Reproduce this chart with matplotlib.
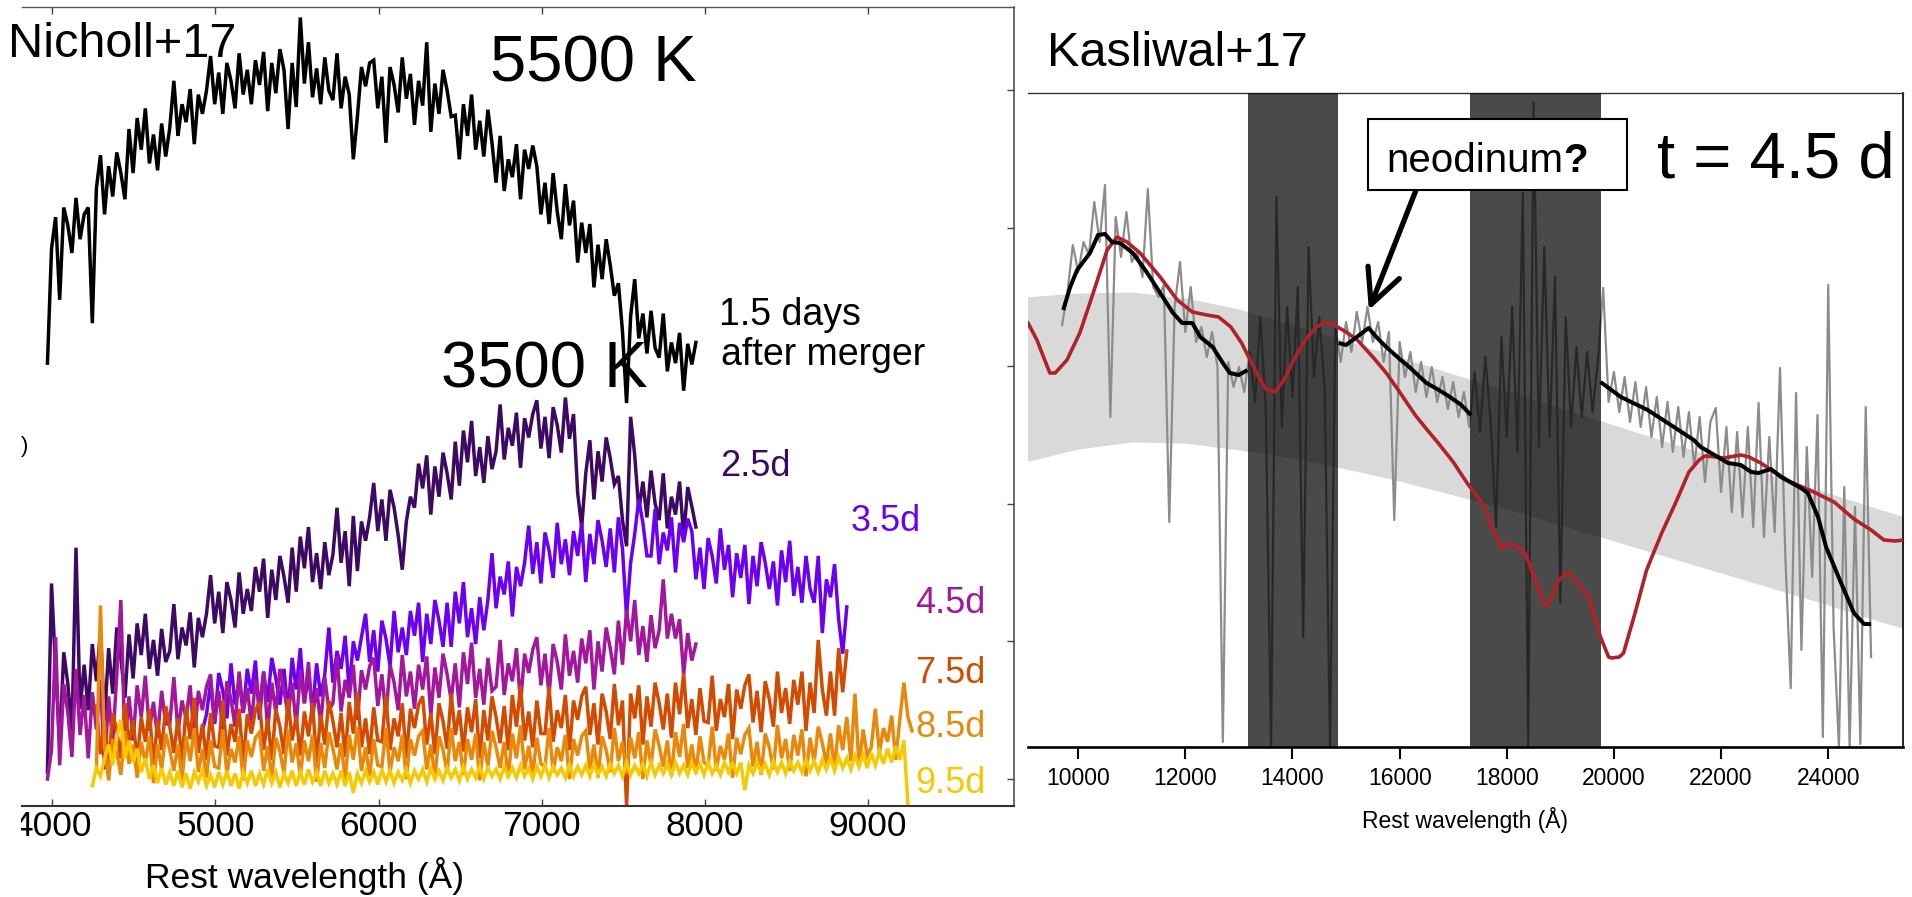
import numpy as np
import matplotlib
matplotlib.use("Agg")
import matplotlib.pyplot as plt
from matplotlib.patches import Rectangle
from matplotlib.transforms import Bbox, TransformedBbox

plt.rcParams["font.family"] = ["Liberation Sans", "DejaVu Sans"]

# ---------------- optical spectra (Nicholl+17), 25 A sampling ----------------
step_opt = 25

start_15 = 3970
flux_15 = [3.02, 3.85, 4.08, 3.48, 4.15, 4.02, 3.82, 4.22, 3.92, 4.10,
           4.15, 3.31, 4.29, 4.53, 4.10, 4.45, 4.23, 4.55, 4.40, 4.21,
           4.72, 4.40, 4.80, 4.57, 4.87, 4.47, 4.68, 4.42, 4.76, 4.52,
           4.73, 5.07, 4.67, 4.90, 4.77, 5.01, 4.61, 4.97, 4.83, 5.00,
           5.25, 4.90, 5.13, 4.83, 5.20, 5.07, 4.87, 5.27, 4.97, 5.15,
           4.90, 5.22, 5.04, 5.28, 4.85, 5.20, 4.98, 5.30, 5.15, 4.72,
           5.20, 4.88, 5.53, 5.05, 5.35, 4.95, 5.16, 4.90, 5.24, 5.00,
           4.93, 5.27, 4.87, 5.10, 4.97, 4.50, 4.81, 5.17, 5.03, 5.20,
           5.22, 4.87, 5.10, 4.62, 5.17, 5.04, 4.84, 5.24, 4.94, 5.12,
           4.75, 5.07, 4.89, 5.35, 4.70, 5.05, 4.83, 5.15, 5.00, 4.81,
           4.82, 4.50, 4.90, 4.67, 4.97, 4.57, 4.78, 4.52, 4.86, 4.62,
           4.33, 4.67, 4.27, 4.50, 4.37, 4.61, 4.21, 4.57, 4.43, 4.60,
           4.45, 4.10, 4.33, 4.03, 4.40, 4.12, 3.92, 4.32, 4.02, 4.20,
           3.75, 4.04, 3.82, 4.03, 3.57, 3.88, 3.63, 3.92, 3.73, 3.51,
           3.60, 3.25, 2.73, 3.36, 3.63, 3.20, 3.38, 3.09, 3.40, 3.13,
           3.06, 3.38, 2.96, 3.17, 3.02, 3.24, 2.82, 3.16, 3.01, 3.17]

start_25 = 3970
flux_25 = [0.05, 1.42, 0.79, 0.25, 0.92, 0.69, 0.33, 1.68, 0.51, 0.83,
           0.50, 0.98, 0.71, 1.07, 0.42, 0.95, 0.62, 1.10, 0.88, 0.59,
           1.05, 0.73, 1.13, 0.90, 1.20, 0.80, 1.01, 0.75, 1.09, 0.85,
           0.93, 1.27, 0.87, 1.10, 0.97, 1.21, 0.81, 1.17, 1.03, 1.20,
           1.48, 1.13, 1.36, 1.06, 1.43, 1.30, 1.10, 1.50, 1.20, 1.38,
           1.22, 1.54, 1.36, 1.60, 1.17, 1.52, 1.30, 1.62, 1.47, 1.28,
           1.68, 1.36, 1.76, 1.53, 1.83, 1.43, 1.64, 1.38, 1.72, 1.48,
           1.63, 1.97, 1.57, 1.80, 1.40, 1.91, 1.51, 1.87, 1.73, 1.90,
           2.15, 1.80, 2.03, 1.73, 2.10, 1.97, 1.77, 1.52, 1.87, 2.05,
           1.97, 2.29, 2.11, 2.35, 1.92, 2.27, 2.05, 2.37, 2.22, 2.03,
           2.45, 2.13, 2.53, 2.30, 2.60, 2.20, 2.41, 2.15, 2.49, 2.25,
           2.38, 2.72, 2.32, 2.55, 2.42, 2.66, 2.26, 2.62, 2.48, 2.65,
           2.75, 2.40, 2.63, 2.33, 2.70, 2.57, 2.37, 2.77, 2.47, 2.65,
           2.08, 1.83, 2.22, 2.46, 2.03, 2.38, 2.16, 2.48, 2.33, 2.14,
           2.20, 1.88, 1.69, 2.63, 2.35, 1.95, 2.16, 1.90, 2.24, 2.00,
           1.88, 2.22, 1.82, 2.05, 1.92, 2.16, 1.76, 2.12, 1.98, 1.83]

start_35 = 4920
flux_35 = [0.35, 0.47, 0.70, 0.40, 0.77, 0.64, 0.44, 0.84, 0.54, 0.72,
           0.48, 0.80, 0.62, 0.86, 0.43, 0.78, 0.56, 0.88, 0.73, 0.54,
           0.80, 0.48, 0.88, 0.65, 0.95, 0.55, 0.76, 0.50, 0.84, 0.60,
           0.76, 1.10, 0.70, 0.93, 0.80, 1.04, 0.64, 1.00, 0.86, 1.03,
           1.20, 0.85, 1.08, 0.78, 1.15, 1.02, 0.82, 1.22, 0.92, 1.10,
           0.90, 1.22, 1.04, 1.28, 0.85, 1.20, 0.98, 1.30, 1.15, 0.96,
           1.28, 0.96, 1.36, 1.13, 1.43, 1.03, 1.24, 0.98, 1.32, 1.08,
           1.30, 1.64, 1.24, 1.47, 1.34, 1.58, 1.18, 1.54, 1.40, 1.57,
           1.84, 1.49, 1.72, 1.42, 1.79, 1.66, 1.46, 1.86, 1.56, 1.74,
           1.48, 1.80, 1.62, 1.86, 1.43, 1.78, 1.56, 1.88, 1.73, 1.54,
           1.82, 1.50, 1.90, 1.67, 1.18, 1.57, 1.78, 2.03, 1.86, 1.62,
           1.62, 1.96, 1.56, 1.79, 1.66, 1.90, 1.50, 1.86, 1.72, 1.89,
           1.80, 1.45, 1.68, 1.38, 1.75, 1.62, 1.42, 1.82, 1.52, 1.70,
           1.32, 1.64, 1.46, 1.70, 1.27, 1.62, 1.40, 1.72, 1.57, 1.38,
           1.58, 1.26, 1.66, 1.43, 1.73, 1.33, 1.54, 1.28, 1.62, 1.38,
           1.28, 1.62, 1.06, 1.45, 1.32, 1.56, 1.16, 0.91, 1.25]

start_45 = 3970
flux_45 = [0.00, 0.21, 1.03, 0.10, 0.69, 0.48, 0.16, 0.80, 0.32, 0.61,
           0.15, 0.63, 0.36, 0.72, 0.07, 0.60, 0.27, 0.75, 1.30, 0.24,
           0.60, 0.28, 0.68, 0.45, 0.75, 0.35, 0.56, 0.30, 0.64, 0.40,
           0.40, 0.74, 0.34, 0.57, 0.44, 0.68, 0.28, 0.64, 0.50, 0.67,
           0.76, 0.41, 0.64, 0.34, 0.71, 0.58, 0.38, 0.78, 0.48, 0.66,
           0.40, 0.72, 0.54, 0.78, 0.35, 0.70, 0.48, 0.80, 0.65, 0.46,
           0.70, 0.38, 0.78, 0.55, 0.85, 0.45, 0.66, 0.40, 0.74, 0.50,
           0.55, 0.89, 0.49, 0.72, 0.59, 0.83, 0.43, 0.79, 0.65, 0.82,
           0.88, 0.53, 0.76, 0.46, 0.83, 0.70, 0.50, 0.90, 0.60, 0.78,
           0.51, 0.83, 0.65, 0.89, 0.46, 0.81, 0.59, 0.91, 0.76, 0.57,
           0.84, 0.52, 0.92, 0.69, 0.99, 0.59, 0.80, 0.54, 0.88, 0.64,
           0.67, 1.01, 0.61, 0.84, 0.71, 0.95, 0.55, 0.91, 0.77, 0.94,
           1.03, 0.68, 0.91, 0.61, 0.98, 0.85, 0.65, 1.05, 0.75, 0.93,
           0.70, 1.02, 0.84, 1.08, 0.65, 1.00, 0.78, 1.10, 0.95, 0.76,
           1.15, 0.83, 1.23, 1.00, 1.30, 0.90, 1.11, 0.85, 1.19, 0.95,
           1.08, 1.45, 1.02, 1.20, 1.02, 1.16, 0.76, 1.06, 0.86, 0.98]

start_75 = 4270
flux_75 = [0.53, 0.18, 0.41, 0.11, 0.48, 0.35, 0.15, 0.55, 0.25, 0.43,
           0.13, 0.45, 0.27, 0.51, 0.08, 0.43, 0.21, 0.53, 0.38, 0.19,
           0.44, 0.12, 0.52, 0.29, 0.59, 0.19, 0.40, 0.14, 0.48, 0.24,
           0.23, 0.57, 0.17, 0.40, 0.27, 0.51, 0.11, 0.47, 0.33, 0.50,
           0.56, 0.21, 0.44, 0.14, 0.51, 0.38, 0.18, 0.58, 0.28, 0.46,
           0.17, 0.49, 0.31, 0.55, 0.12, 0.47, 0.25, 0.57, 0.42, 0.23,
           0.48, 0.16, 0.56, 0.33, 0.63, 0.23, 0.44, 0.18, 0.52, 0.28,
           0.27, 0.61, 0.21, 0.44, 0.31, 0.55, 0.15, 0.51, 0.37, 0.54,
           0.60, 0.25, 0.48, 0.18, 0.55, 0.42, 0.22, 0.62, 0.32, 0.50,
           0.20, 0.52, 0.34, 0.58, 0.15, 0.50, 0.28, 0.60, 0.45, 0.26,
           0.53, 0.21, 0.61, 0.38, 0.68, 0.28, 0.49, 0.23, 0.57, 0.33,
           0.33, 0.67, 0.27, 0.50, 0.37, 0.61, 0.21, 0.57, 0.43, 0.60,
           0.67, 0.32, 0.55, 0.25, 0.62, 0.49, 0.29, 0.69, 0.39, 0.57,
           -0.20, 0.62, 0.44, 0.68, 0.25, 0.60, 0.38, 0.70, 0.55, 0.36,
           0.62, 0.30, 0.70, 0.47, 0.77, 0.37, 0.58, 0.32, 0.66, 0.42,
           0.41, 0.75, 0.35, 0.58, 0.45, 0.69, 0.29, 0.65, 0.51, 0.68,
           0.76, 0.41, 0.64, 0.34, 0.71, 0.58, 0.38, 0.78, 0.48, 0.66,
           0.40, 0.72, 0.54, 0.78, 0.35, 0.70, 0.48, 1.01, 0.65, 0.46,
           0.78, 0.46, 0.95, 0.63, 0.93]

start_85 = 4270
flux_85 = [0.05, 1.26, 0.23, -0.01, 0.29, 0.19, 0.03, 0.35, 0.11, 0.25,
           0.01, 0.27, 0.12, 0.31, -0.03, 0.25, 0.07, 0.33, 0.21, 0.06,
           0.25, -0.01, 0.31, 0.13, 0.37, 0.05, 0.22, 0.01, 0.28, 0.09,
           0.08, 0.36, 0.04, 0.22, 0.12, 0.31, -0.01, 0.28, 0.16, 0.30,
           0.34, 0.06, 0.24, 0.00, 0.30, 0.20, 0.04, 0.36, 0.12, 0.26,
           0.02, 0.28, 0.13, 0.32, -0.02, 0.26, 0.08, 0.34, 0.22, 0.07,
           0.26, 0.00, 0.32, 0.14, 0.38, 0.06, 0.23, 0.02, 0.29, 0.10,
           0.09, 0.37, 0.05, 0.23, 0.13, 0.32, 0.00, 0.29, 0.17, 0.31,
           0.35, 0.07, 0.25, 0.01, 0.31, 0.21, 0.05, 0.37, 0.13, 0.27,
           0.03, 0.29, 0.14, 0.33, -0.01, 0.27, 0.09, 0.35, 0.23, 0.08,
           0.27, 0.01, 0.33, 0.15, 0.39, 0.07, 0.24, 0.03, 0.30, 0.11,
           0.09, 0.37, 0.05, 0.23, 0.13, 0.32, 0.00, 0.29, 0.17, 0.31,
           0.35, 0.07, 0.25, 0.01, 0.31, 0.21, 0.05, 0.37, 0.13, 0.27,
           0.04, 0.30, 0.15, 0.34, 0.00, 0.28, 0.10, 0.36, 0.24, 0.09,
           0.28, 0.02, 0.34, 0.16, 0.40, 0.08, 0.25, 0.04, 0.31, 0.12,
           0.10, 0.38, 0.06, 0.24, 0.14, 0.33, 0.01, 0.30, 0.18, 0.32,
           0.37, 0.09, 0.27, 0.03, 0.33, 0.23, 0.07, 0.39, 0.15, 0.29,
           0.06, 0.32, 0.17, 0.36, 0.02, 0.30, 0.12, 0.38, 0.26, 0.11,
           0.33, 0.07, 0.39, 0.21, 0.45, 0.13, 0.62, 0.09, 0.36, 0.17,
           0.23, 0.51, 0.19, 0.37, 0.27, 0.46, 0.14, 0.43, 0.70, 0.45,
           0.35]

start_95 = 4245
flux_95 = [-0.05, 0.08, 0.02, 0.15, 0.25, 0.10, 0.30, 0.43, 0.15, 0.28, 0.12, 0.22, 0.05, 0.15, 0.00, 0.10, -0.03, 0.08, -0.04, 0.05,
           -0.05, 0.06, -0.06, 0.04, -0.07, 0.05, -0.02, 0.06, -0.05, 0.03, -0.06, 0.05, -0.04, 0.06, -0.05, 0.04, -0.07, 0.05, -0.03, 0.06,
           -0.05, 0.04, -0.04, 0.07, -0.03, 0.05, -0.06, 0.04, -0.03, 0.06, -0.05, 0.05, -0.04, 0.07, -0.02, 0.05, -0.05, 0.06, -0.03, 0.04,
           -0.04, 0.06, -0.05, 0.05, -0.10, 0.04, -0.03, 0.06, -0.02, 0.05, -0.04, 0.07, -0.02, 0.06, -0.03, 0.05, -0.01, 0.07, -0.03, 0.06,
           0.00, 0.07, -0.02, 0.08, 0.00, 0.06, -0.01, 0.08, 0.01, 0.07, -0.01, 0.09, 0.00, 0.07, 0.01, 0.09, 0.00, 0.08, 0.02, 0.07,
           0.00, 0.09, 0.02, 0.08, 0.01, 0.10, 0.02, 0.08, 0.00, 0.09, 0.02, 0.10, 0.01, 0.09, 0.03, 0.08, 0.01, 0.10, 0.02, 0.09,
           0.03, 0.10, 0.02, 0.11, 0.03, 0.09, 0.02, 0.11, 0.04, 0.10, 0.02, 0.12, 0.03, 0.10, 0.04, 0.11, 0.02, 0.12, 0.03, 0.10,
           0.04, 0.11, 0.03, 0.12, 0.04, 0.10, 0.03, 0.12, 0.05, 0.11, 0.03, 0.12, 0.04, 0.10, 0.03, 0.12, 0.05, 0.11, 0.04, 0.12,
           -0.08, 0.10, 0.04, 0.12, 0.05, 0.11, 0.03, 0.13, 0.05, 0.12, 0.04, 0.13, 0.06, 0.12, 0.05, 0.14, 0.06, 0.13, 0.05, 0.14,
           0.07, 0.15, 0.06, 0.16, 0.08, 0.15, 0.07, 0.17, 0.09, 0.18, 0.08, 0.19, 0.10, 0.20, 0.11, 0.22, 0.12, 0.24, 0.14, 0.28,
           -0.19]

epochs = ["1.5", "2.5", "3.5", "4.5", "7.5", "8.5", "9.5"]
colors = ["black", "#3d0a63", "#6c00f5", "#a3179d", "#d24b00", "#e8890c", "#f6c900"]

# ---------------- near-IR spectrum (Kasliwal+17), 100 A sampling ----------------
start_ir = 9700
step_ir = 100
flux_ir = [4.22, 4.55, 5.02,
           4.75, 5.05, 4.92, 5.45, 5.05, 5.62, 3.30, 5.30, 4.90, 5.35,
           4.85, 4.95, 4.70, 5.58, 4.60, 4.50, 4.62, 2.25, 4.40, 4.85,
           4.15, 4.60, 4.05, 4.20, 3.90, 4.15, 3.80, 0.05, 3.85, 3.60,
           3.80, 3.55, 3.95, 3.45, 4.30, 3.40, 0.00, 5.50, 3.20, 4.40,
           3.50, 4.60, 1.10, 5.00, 3.70, 4.30, 3.60, 0.00, 4.20, 3.85,
           4.25, 3.95, 4.35, 4.05, 4.40, 4.05, 4.25, 3.85, 4.15, 2.27,
           4.05, 3.70, 3.95, 3.55, 3.85, 3.50, 3.80, 3.45, 3.70, 3.38,
           3.65, 3.30, 3.55, 3.20, 3.75, 3.15, 3.90, 3.25, 2.20, 4.10,
           3.10, 4.40, 2.95, 5.54, 0.00, 6.45, 3.00, 5.00, 3.10, 4.70,
           1.44, 4.30, 3.20, 4.00, 3.30, 3.95, 3.35, 3.85, 4.59, 3.45,
           3.75, 3.35, 3.70, 3.25, 3.65, 3.20, 3.60, 3.10, 3.50, 3.00,
           3.45, 2.95, 3.40, 2.90, 3.35, 2.80, 3.30, 2.65, 3.25, 3.39,
           2.55, 3.20, 2.35, 3.15, 2.30, 3.20, 2.20, 3.44, 2.10, 3.10,
           2.15, 3.79, 1.90, 0.59, 3.54, 0.97, 3.00, 1.70, 3.32, 0.10,
           4.62, 1.20, 0.00, 2.60, 0.00, 2.40, 0.03, 3.40, 0.90]

# smoothed spectrum, three pieces outside the telluric windows
smooth_wl = [
    [9720, 9850, 9980, 10220, 10370, 10500, 10630, 10780, 11020, 11290,
     11530, 11770, 11940, 12130, 12280, 12510, 12700, 12830, 13000, 13160],
    [14860, 15000, 15200, 15420, 15600, 15750, 16000, 16180, 16500, 16700,
     16940, 17150, 17330],
    [19750, 20130, 20630, 21120, 21490, 21620, 21940, 22130, 22370, 22560,
     22700, 22930, 23120, 23490, 23620, 23810, 23960, 24240, 24480, 24670, 24800],
]
smooth_flux = [
    [4.37, 4.60, 4.77, 4.94, 5.12, 5.13, 5.05, 5.04, 4.94, 4.74,
     4.54, 4.34, 4.24, 4.24, 4.10, 4.00, 3.84, 3.74, 3.72, 3.77],
    [4.04, 4.02, 4.10, 4.19, 4.08, 4.00, 3.88, 3.80, 3.64, 3.58,
     3.50, 3.42, 3.32],
    [3.65, 3.50, 3.37, 3.20, 3.07, 3.00, 2.90, 2.84, 2.82, 2.75,
     2.74, 2.78, 2.70, 2.59, 2.54, 2.30, 2.00, 1.64, 1.34, 1.23, 1.23],
]

# kilonova model
model_wl = [9063, 9230, 9470, 9570, 9790, 10030, 10280, 10540, 10725, 10910,
            11155, 11530, 11850, 12130, 12400, 12620, 12850, 13050, 13370, 13500,
            13680, 13850, 14020, 14250, 14450, 14620, 14780, 15000, 15210, 15500,
            15750, 16000, 16290, 16500, 16720, 17000, 17260, 17590, 17750, 17910,
            18020, 18130, 18340, 18550, 18700, 18780, 18950, 19100, 19210, 19360,
            19530, 19750, 19900, 19960, 20100, 20180, 20400, 20610, 20900, 21150,
            21400, 21590, 21700, 21910, 22050, 22370, 22520, 22740, 22990, 23300,
            23730, 24110, 24480, 24800, 25040, 25250, 25400]
model_flux = [4.24, 4.07, 3.74, 3.74, 3.87, 4.14, 4.54, 4.97, 5.10, 5.05,
              4.94, 4.70, 4.47, 4.35, 4.32, 4.30, 4.20, 4.04, 3.70, 3.58,
              3.55, 3.68, 3.87, 4.08, 4.20, 4.25, 4.22, 4.15, 4.07, 3.90,
              3.74, 3.55, 3.32, 3.18, 3.04, 2.85, 2.64, 2.40, 2.15, 1.99,
              2.03, 2.02, 1.94, 1.65, 1.42, 1.42, 1.65, 1.74, 1.72, 1.62,
              1.50, 1.10, 0.90, 0.89, 0.90, 0.94, 1.35, 1.77, 2.15, 2.44,
              2.75, 2.87, 2.91, 2.90, 2.89, 2.92, 2.90, 2.84, 2.75, 2.65,
              2.55, 2.45, 2.28, 2.17, 2.07, 2.06, 2.07]

# blackbody range
bb_wl = [9000, 10000, 11000, 12000, 13000, 14000, 15000, 16000, 17000,
         18000, 19000, 20000, 21000, 22000, 23000, 24000, 25000, 25500]
bb_hi = [4.50, 4.54, 4.55, 4.49, 4.38, 4.22, 4.06, 3.90, 3.73,
         3.56, 3.39, 3.22, 3.05, 2.88, 2.71, 2.54, 2.37, 2.29]
bb_lo = [2.85, 2.98, 3.05, 3.04, 2.97, 2.89, 2.78, 2.66, 2.52,
         2.38, 2.22, 2.06, 1.90, 1.74, 1.58, 1.42, 1.25, 1.17]

telluric = [(13174, 14856), (17308, 19757)]

# ---------------- figure ----------------
W, H = 1912, 897
fig = plt.figure(figsize=(W / 100, H / 100), dpi=100)


def fx(x):
    return x / W


def fy(y):
    return 1 - y / H


axL = fig.add_axes([fx(22), fy(806), fx(1014) - fx(22), fy(7) - fy(806)])
axR = fig.add_axes([fx(1028), fy(747), fx(1903) - fx(1028), fy(93) - fy(747)])

# left panel
spectra = [(start_15, flux_15), (start_25, flux_25), (start_35, flux_35),
           (start_45, flux_45), (start_75, flux_75), (start_85, flux_85),
           (start_95, flux_95)]
for (s, f), c in zip(spectra, colors):
    wl = s + step_opt * np.arange(len(f))
    axL.plot(wl, f, color=c, lw=2.5, solid_joinstyle="miter")

axL.set_xlim(3814, 9895)
axL.set_ylim(-0.196, 5.606)
axL.set_xticks(range(4000, 9001, 1000))
axL.set_yticks(range(6))
axL.tick_params(axis="x", direction="in", length=5, width=1.0, top=True,
                labelsize=25.5, pad=3, color="#444444")
axL.tick_params(axis="y", direction="in", length=5, width=1.0, left=False,
                right=True, labelleft=False, color="#444444")
axL.spines["left"].set_visible(False)
axL.spines["top"].set_color("#555555")
axL.spines["top"].set_linewidth(1.0)
axL.spines["right"].set_color("#444444")
axL.spines["right"].set_linewidth(1.1)
axL.spines["bottom"].set_color("#333333")
axL.spines["bottom"].set_linewidth(1.5)

clip = TransformedBbox(Bbox.from_extents(fx(21), 0, 1, 1), fig.transFigure)
for t in axL.xaxis.get_major_ticks():
    t.label1.set_clip_box(clip)
    t.label1.set_clip_on(True)

fig.text(fx(305), fy(876), "Rest wavelength (Å)", size=25.5, ha="center", va="center")
fig.text(fx(8), fy(57), "Nicholl+17", size=35, va="baseline")
fig.text(fx(490), fy(82), "5500 K", size=47, va="baseline")
fig.text(fx(441), fy(387), "3500 K", size=47, va="baseline")
fig.text(fx(719), fy(325), "1.5 days", size=27, va="baseline")
fig.text(fx(721), fy(365), "after merger", size=27, va="baseline")
fig.text(fx(25), fy(446), ")", size=16, ha="center", va="center")

day_pos = [(720, 476), (851, 531), (915, 613), (915, 683), (915, 737), (915, 793)]
for ep, c, (px, py) in zip(epochs[1:], colors[1:], day_pos):
    fig.text(fx(px), fy(py), ep + "d", size=26, color=c, va="baseline")

# right panel
axR.fill_between(bb_wl, bb_lo, bb_hi, color="#d9d9d9", lw=0, zorder=1)
wl_ir = start_ir + step_ir * np.arange(len(flux_ir))
axR.plot(wl_ir, flux_ir, color="#8c8c8c", lw=1.6, zorder=2)
for a, b in telluric:
    axR.axvspan(a, b, color="black", alpha=0.71, lw=0, zorder=3)
axR.plot(model_wl, model_flux, color="#b2202a", lw=2.6, zorder=4)
for w, f in zip(smooth_wl, smooth_flux):
    axR.plot(w, f, color="black", lw=2.9, zorder=5, solid_capstyle="butt")

axR.set_xlim(9063, 25396)
axR.set_ylim(0, 6.54)
axR.set_xticks(range(10000, 24001, 2000))
axR.set_yticks([])
axR.tick_params(axis="x", direction="out", length=8.6, width=1.5,
                labelsize=16.5, pad=6)
axR.spines["left"].set_visible(False)
axR.spines["top"].set_linewidth(1.0)
axR.spines["top"].set_color("#333333")
axR.spines["right"].set_linewidth(1.2)
axR.spines["bottom"].set_linewidth(1.9)

fig.text(fx(1465), fy(820), "Rest wavelength (Å)", size=16.5, ha="center", va="center")
fig.text(fx(1047), fy(66), "Kasliwal+17", size=35, va="baseline")
fig.text(fx(1657), fy(178), "t = 4.5 d", size=47, va="baseline")

# annotation box with arrow
axR.annotate("", xy=(15426, 4.37), xytext=(16343, 5.62),
             arrowprops=dict(arrowstyle="->,head_length=0.45,head_width=0.22",
                             lw=3.8, color="black", mutation_scale=55,
                             shrinkA=0, shrinkB=0), zorder=6)
fig.add_artist(Rectangle((fx(1368), fy(190)), fx(1627) - fx(1368), fy(119) - fy(190),
                         transform=fig.transFigure, facecolor="white",
                         edgecolor="black", lw=1.5, zorder=5))
t1 = fig.text(fx(1386), fy(172), "neodinum", size=29, va="baseline", zorder=6)
fig.canvas.draw()
bb = t1.get_window_extent()
fig.text(bb.x1 / W, fy(172), "?", size=29, fontweight="bold",
         va="baseline", zorder=6)

fig.savefig("out.png", dpi=100)
